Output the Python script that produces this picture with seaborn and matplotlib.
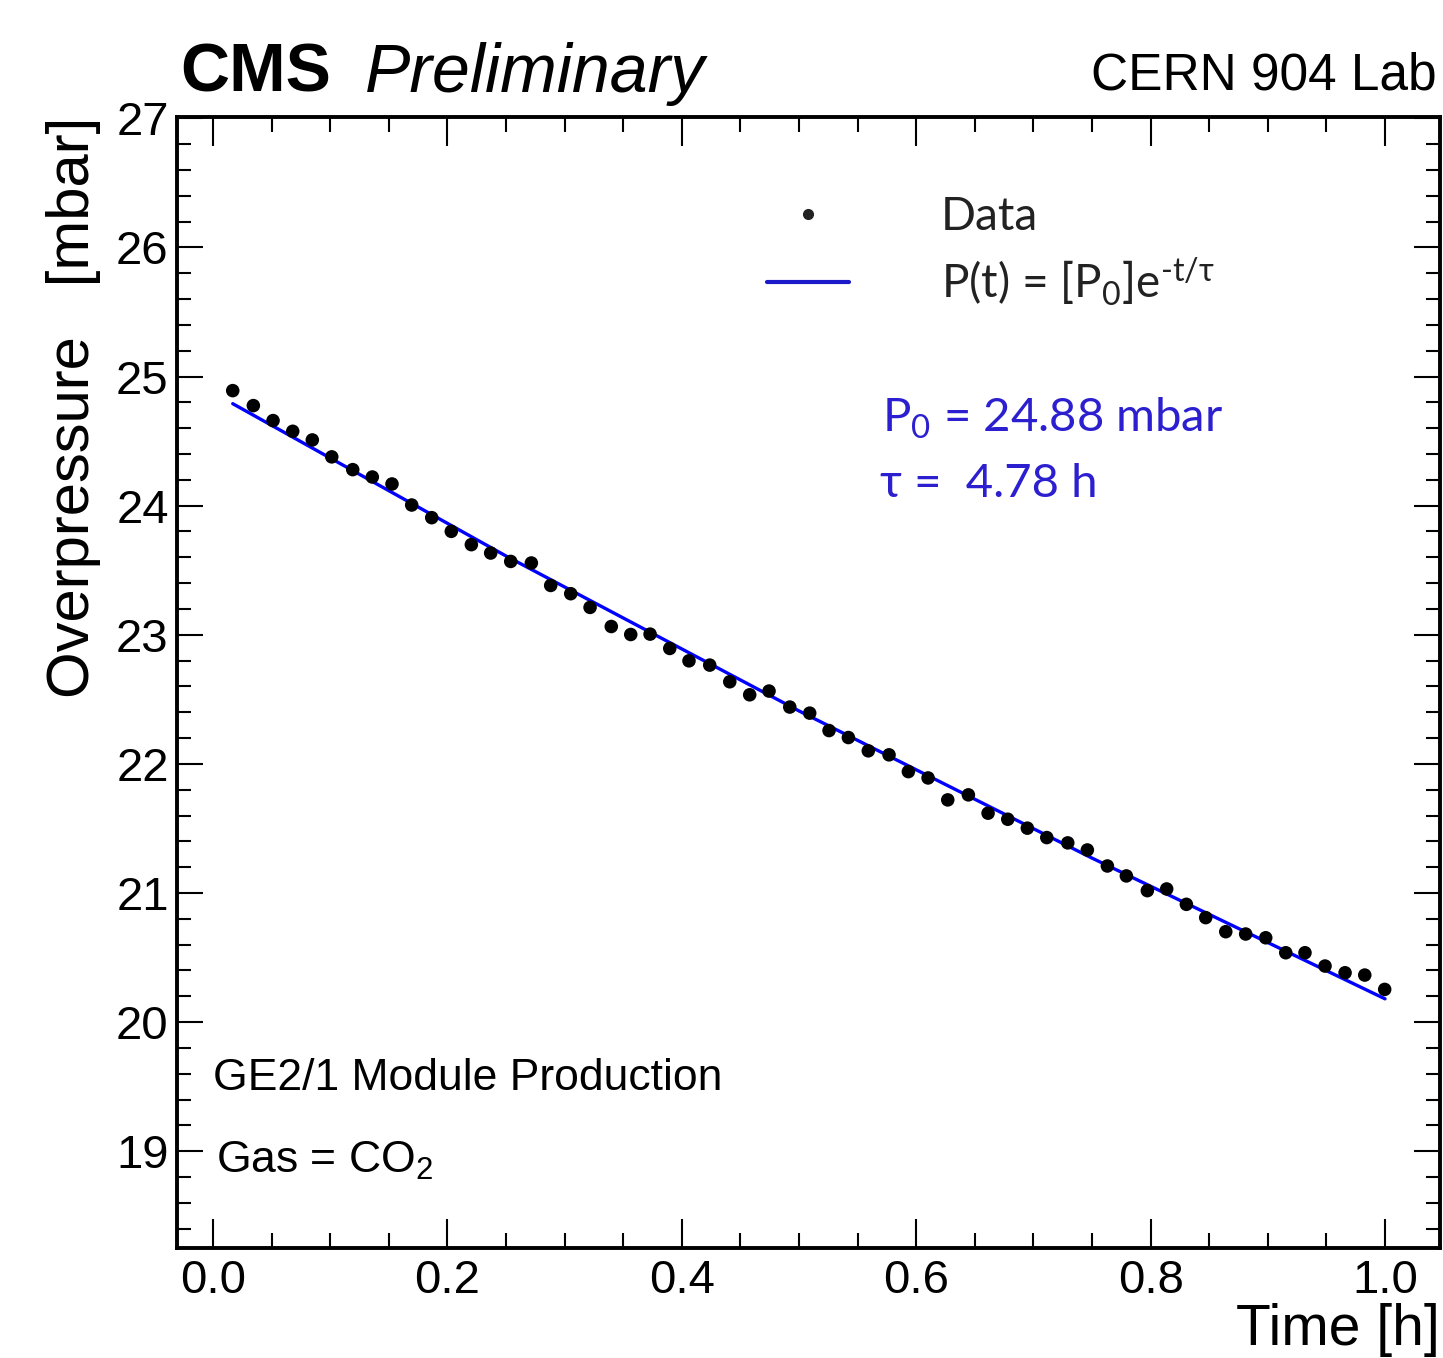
import numpy as np
import pandas as pd
import matplotlib
matplotlib.use("Agg")
import matplotlib.pyplot as plt
import seaborn as sns
from matplotlib.lines import Line2D
from matplotlib.ticker import MultipleLocator, FormatStrFormatter

# ---------------- data ----------------
time_h = [0.0168, 0.0344, 0.0512, 0.0680, 0.0847, 0.1013, 0.1192, 0.1359, 0.1527, 0.1695,
          0.1866, 0.2033, 0.2204, 0.2369, 0.2540, 0.2716, 0.2881, 0.3052, 0.3217, 0.3398,
          0.3564, 0.3729, 0.3897, 0.4061, 0.4238, 0.4409, 0.4579, 0.4744, 0.4921, 0.5091,
          0.5256, 0.5421, 0.5591, 0.5768, 0.5933, 0.6101, 0.6269, 0.6445, 0.6613, 0.6781,
          0.6948, 0.7114, 0.7293, 0.7460, 0.7631, 0.7793, 0.7972, 0.8137, 0.8305, 0.8470,
          0.8641, 0.8811, 0.8982, 0.9153, 0.9317, 0.9488, 0.9659, 0.9827, 0.9997]
pressure_mbar = [24.891, 24.775, 24.659, 24.576, 24.509, 24.378, 24.279, 24.222, 24.168, 24.005,
                 23.907, 23.801, 23.698, 23.633, 23.568, 23.556, 23.382, 23.318, 23.212, 23.064,
                 23.002, 23.005, 22.894, 22.798, 22.765, 22.636, 22.535, 22.564, 22.440, 22.393,
                 22.258, 22.204, 22.101, 22.070, 21.940, 21.891, 21.721, 21.760, 21.618, 21.571,
                 21.502, 21.429, 21.388, 21.333, 21.209, 21.132, 21.018, 21.031, 20.912, 20.809,
                 20.700, 20.682, 20.653, 20.537, 20.537, 20.434, 20.382, 20.364, 20.253]
fit_time_h = [0.0168, 0.25, 0.5, 0.75, 1.0]
fit_pressure_mbar = [24.79, 23.61, 22.41, 21.27, 20.18]

legend_labels = ["Data", "P(t) = [P$\\mathregular{_0}$]e$\\mathregular{^{\u2010t/τ}}$"]
fit_lines = [r"P$\mathregular{_0}$ = 24.88 mbar", "τ =  4.78 h"]

# ---------------- style ----------------
sns.set_theme(style="ticks", rc={"text.color": "black", "axes.labelcolor": "black",
                                 "xtick.color": "black", "ytick.color": "black",
                                 "axes.edgecolor": "black"})
plt.rcParams["font.family"] = ["Liberation Sans", "DejaVu Sans"]
plt.rcParams["axes.linewidth"] = 2.8

fig = plt.figure(figsize=(14.43, 13.58), dpi=100)
ax = fig.add_axes([0.1227, 0.0810, 0.8753, 0.8328])

df = pd.DataFrame({"t": time_h, "p": pressure_mbar})
fit_df = pd.DataFrame({"t": fit_time_h, "p": fit_pressure_mbar})

sns.lineplot(data=fit_df, x="t", y="p", color="#0000ff", linewidth=2.4, ax=ax, zorder=2, legend=False)
sns.scatterplot(data=df, x="t", y="p", color="black", s=95, edgecolor="none", ax=ax, zorder=3, legend=False)

ax.set_xlim(-0.0307, 1.047)
ax.set_ylim(18.25, 27.01)
ax.xaxis.set_major_locator(MultipleLocator(0.2))
ax.xaxis.set_minor_locator(MultipleLocator(0.05))
ax.xaxis.set_major_formatter(FormatStrFormatter("%.1f"))
ax.yaxis.set_major_locator(MultipleLocator(1))
ax.yaxis.set_minor_locator(MultipleLocator(0.2))

for s in ax.spines.values():
    s.set_visible(True)
    s.set_linewidth(2.8)
    s.set_color("black")

ax.tick_params(axis="x", which="major", direction="in", length=21, width=1.5, top=True, bottom=True,
               labelsize=34, pad=8, colors="black")
ax.tick_params(axis="x", which="minor", direction="in", length=11, width=1.5, top=True, bottom=True,
               colors="black")
ax.tick_params(axis="y", which="major", direction="in", length=19, width=1.5, left=True, right=True,
               labelsize=34, pad=6, colors="black")
ax.tick_params(axis="y", which="minor", direction="in", length=10, width=1.5, left=True, right=True,
               colors="black")

ax.set_xlabel("Time [h]", fontsize=41, loc="right", color="black")
ax.xaxis.set_label_coords(1.0, -0.049)
ax.set_ylabel("Overpressure   [mbar]", fontsize=43, loc="top", color="black")
ax.yaxis.set_label_coords(-0.060, 1.0)

# header texts
fig.text(180 / 1443, 1 - 92 / 1358, "CMS", fontsize=49, fontweight="bold", va="baseline", ha="left",
         color="black")
fig.text(365 / 1443, 1 - 92 / 1358, "Preliminary", fontsize=49, fontstyle="italic", va="baseline",
         ha="left", color="black")
fig.text(1437 / 1443, 1 - 90 / 1358, "CERN 904 Lab", fontsize=37, va="baseline", ha="right",
         color="black")

# bottom-left annotations
ax.text(0.0285, 0.1397, "GE2/1 Module Production", transform=ax.transAxes, fontsize=32,
        va="baseline", color="black")
ax.text(0.0309, 0.0663, r"Gas = CO$\mathregular{_2}$", transform=ax.transAxes, fontsize=32,
        va="baseline", color="black")

# fit parameters
blue = "#2b1fcf"
ax.text(0.558, 0.7215, fit_lines[0], transform=ax.transAxes, fontsize=34, color=blue,
        va="baseline", family=["Lato", "DejaVu Sans"])
ax.text(0.5566, 0.664, fit_lines[1], transform=ax.transAxes, fontsize=34, color=blue,
        va="baseline", family=["Lato", "DejaVu Sans"])

# legend
handles = [Line2D([], [], marker="o", ls="none", color="#222222", markersize=7),
           Line2D([], [], color="#1a1ac8", lw=3)]
leg = ax.legend(handles, legend_labels, loc="upper left", bbox_to_anchor=(0.467, 0.930), frameon=False,
                prop={"family": ["Lato", "DejaVu Sans"], "size": 33}, handlelength=1.8, handletextpad=2.0,
                labelspacing=0.38, borderpad=0, borderaxespad=0)
for t in leg.get_texts():
    t.set_color("#222222")

fig.savefig("out.png", dpi=100)
